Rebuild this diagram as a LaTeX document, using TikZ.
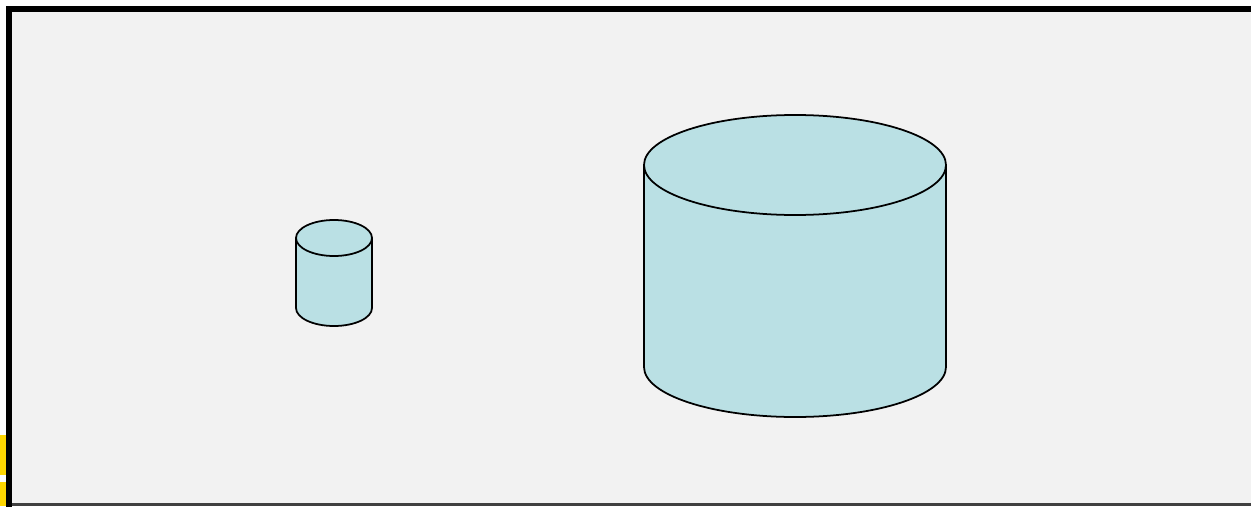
\documentclass[tikz,border=0pt]{standalone}
\usepackage{tikz}
\definecolor{tankblue}{HTML}{BAE0E4}
\definecolor{panelgray}{HTML}{F2F2F2}
\definecolor{markyellow}{HTML}{FFD700}
\definecolor{edgegray}{HTML}{404040}
\tikzset{
  tank/.style={fill=tankblue,draw=black,line width=1pt,line join=round},
  frameline/.style={draw=black,line width=0.12cm}
}
% cylinder: centre x, top y, bottom y, x radius, y radius
\newcommand{\drawtank}[5]{%
  \filldraw[tank] (#1-#4,#2) -- (#1-#4,#3)
    arc[start angle=180,end angle=360,x radius=#4cm,y radius=#5cm]
    -- (#1+#4,#2) -- cycle;
  \filldraw[tank] (#1,#2) ellipse[x radius=#4cm,y radius=#5cm];
}

\begin{document}
\begin{tikzpicture}
\useasboundingbox (0,0) rectangle (25.02,10.12);
\clip (0,0) rectangle (25.02,10.12);
\fill[white] (0,0) rectangle (25.02,10.12);
\fill[markyellow] (0,0.62) rectangle (0.12,1.42);
\fill[markyellow] (0,0) rectangle (0.12,0.48);
\fill[panelgray] (0.12,0) rectangle (25.3,10.0);
\draw[frameline] (0.18,-0.5) -- (0.18,9.94) -- (25.4,9.94);
\fill[edgegray] (0.24,0) rectangle (25.02,0.06);

% small tank
\drawtank{6.68}{5.36}{3.96}{0.76}{0.36}
% large tank
\drawtank{15.90}{6.82}{2.78}{3.02}{1.0}
\end{tikzpicture}
\end{document}
